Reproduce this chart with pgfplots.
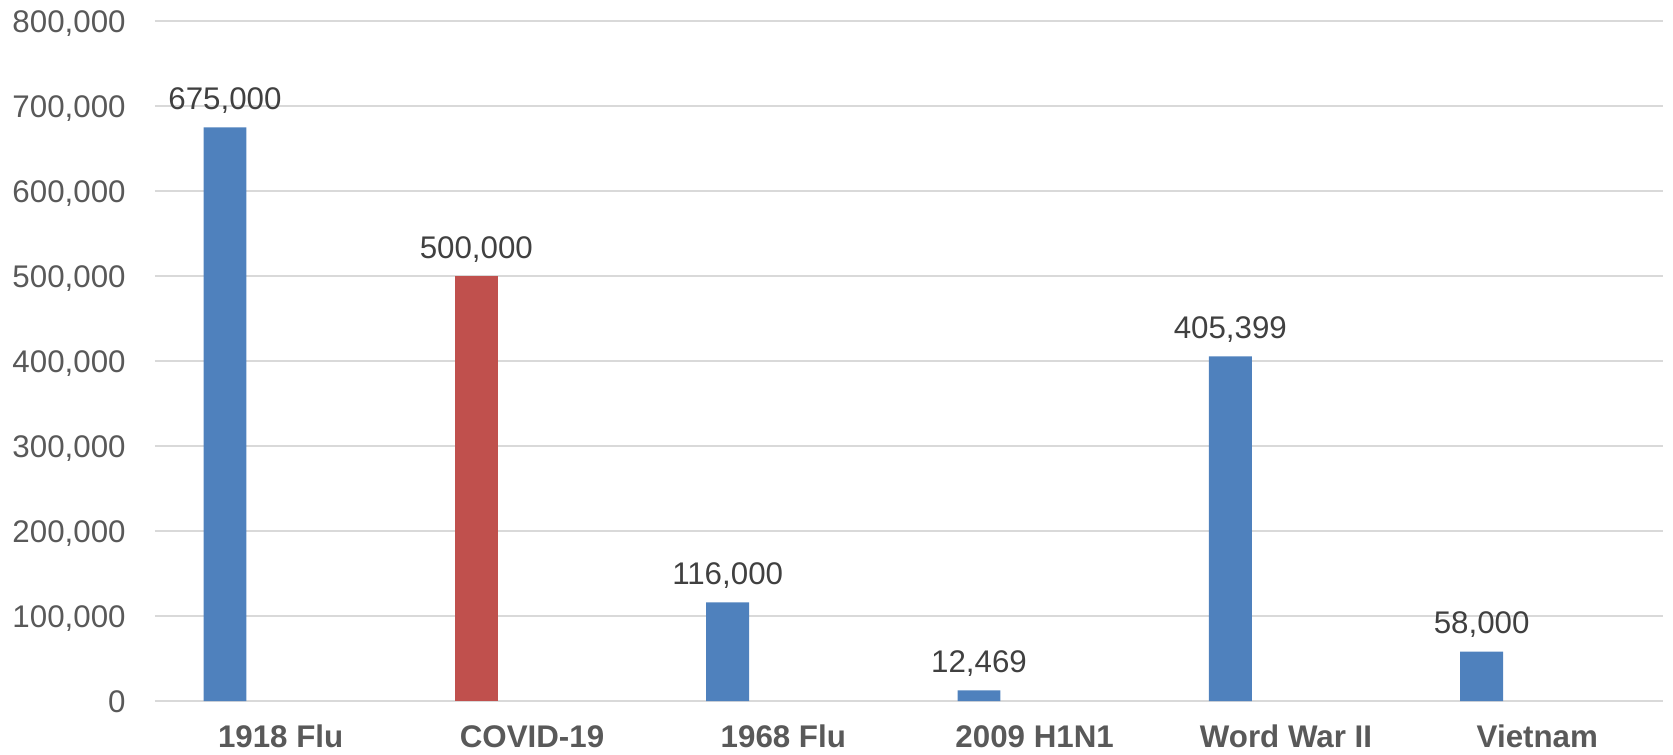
\documentclass[border=0pt]{standalone}
\usepackage{fontspec}
\setmainfont{Liberation Sans}
\usepackage{pgfplots}
\pgfplotsset{compat=1.18}
\definecolor{barblue}{HTML}{4F81BD}
\definecolor{barred}{HTML}{C0504D}
\definecolor{gridgray}{HTML}{D9D9D9}
\definecolor{labgray}{HTML}{595959}
\definecolor{datagray}{HTML}{404040}
\newcommand{\chartfont}{\fontsize{15.65pt}{18pt}\selectfont}
\begin{document}
\begin{tikzpicture}
\begin{axis}[
  scale only axis, width=754pt, height=340pt,
  xmin=-0.5, xmax=5.5, ymin=0, ymax=800000,
  ybar, bar width=0.171,
  xtick={0,...,5},
  xticklabels={1918 Flu, COVID-19, 1968 Flu, 2009 H1N1, Word War II, Vietnam},
  ytick={0,100000,...,800000},
  ymajorgrids, grid style={gridgray, line width=0.9pt},
  axis line style={draw=none},
  major tick length=0pt,
  scaled y ticks=false,
  /pgf/number format/fixed,
  /pgf/number format/1000 sep={,},
  /pgf/number format/assume math mode=true,
  yticklabel style={font=\chartfont, text=labgray, anchor=base east, inner sep=0pt, xshift=-14.5pt, yshift=-5.6pt},
  xticklabel style={font=\chartfont\bfseries, text=labgray, anchor=base, inner sep=0pt, yshift=-23pt},
  nodes near coords,
  every node near coord/.append style={font=\chartfont, text=datagray, anchor=base, inner sep=0pt, yshift=9pt},
  clip=false,
]
\addplot[fill=barblue, draw=none, bar shift=-0.2215] coordinates {(0,675000) (2,116000) (3,12469) (4,405399) (5,58000)};
\addplot[fill=barred, draw=none, bar shift=-0.2215] coordinates {(1,500000)};
\coordinate (bl) at (rel axis cs:0,0);
\end{axis}
\pgfresetboundingbox
\path ([shift={(-77.5pt,-26.5pt)}]bl) rectangle ([shift={(759pt,350.5pt)}]bl);
\end{tikzpicture}
\end{document}
